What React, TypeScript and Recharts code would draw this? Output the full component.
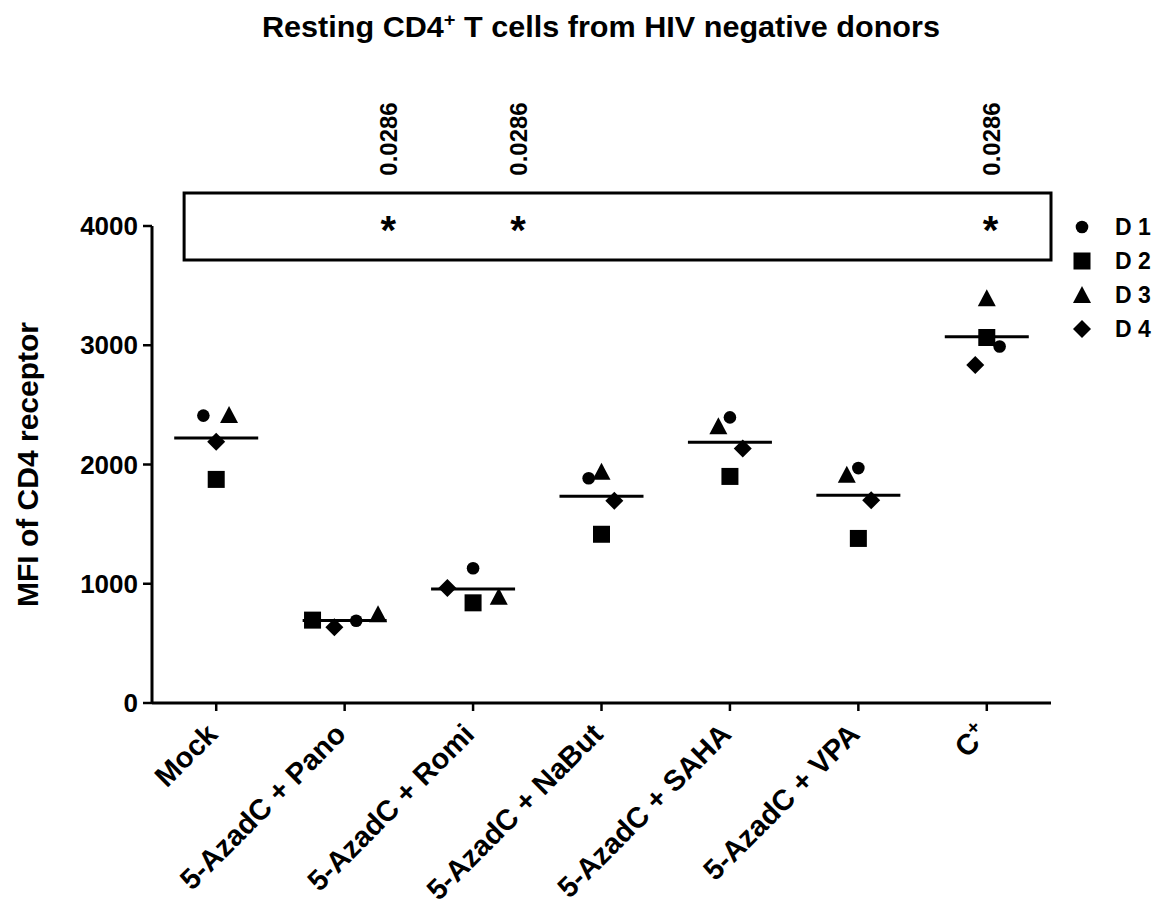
import * as React from 'react'
import { ScatterChart, Scatter, XAxis, YAxis, ReferenceArea, Legend } from 'recharts'

const categories = [
  'Mock',
  '5-AzadC + Pano',
  '5-AzadC + Romi',
  '5-AzadC + NaBut',
  '5-AzadC + SAHA',
  '5-AzadC + VPA',
  'C+',
]

// MFI per donor, one value per category
const d1 = [2410, 690, 1130, 1885, 2395, 1970, 2990]
const d2 = [1875, 695, 840, 1415, 1900, 1380, 3065]
const d3 = [2415, 745, 890, 1940, 2320, 1915, 3395]
const d4 = [2190, 635, 965, 1695, 2135, 1700, 2835]

// horizontal scatter of each donor inside its column (fraction of a column)
const d1Shift = [-0.1, 0.09, 0, -0.1, 0, 0, 0.1]
const d2Shift = [0, -0.25, 0, 0, 0, 0, 0]
const d3Shift = [0.1, 0.26, 0.2, 0, -0.09, -0.09, 0]
const d4Shift = [0, -0.08, -0.2, 0.1, 0.1, 0.1, -0.09]

const pValues = ['', '0.0286', '0.0286', '', '', '', '0.0286']
const sigShift = [0, 0.34, 0.35, 0, 0, 0, 0.03]

const yTicks = [0, 1000, 2000, 3000, 4000]
const xTicks = categories.map((_, i) => i)

const FONT = '"Liberation Sans", Arial, Helvetica, sans-serif'

type Shape = 'circle' | 'square' | 'triangle' | 'diamond'

function marker(shape: Shape, cx: number, cy: number) {
  if (shape === 'circle') return <circle cx={cx} cy={cy} r={6.3} fill="#000" />
  if (shape === 'square') return <rect x={cx - 8.5} y={cy - 8.5} width={17} height={17} fill="#000" />
  if (shape === 'triangle')
    return <polygon points={`${cx},${cy - 9} ${cx + 9},${cy + 8} ${cx - 9},${cy + 8}`} fill="#000" />
  return <polygon points={`${cx},${cy - 9} ${cx + 9},${cy} ${cx},${cy + 9} ${cx - 9},${cy}`} fill="#000" />
}

const donors: { name: string; values: number[]; shift: number[]; shape: Shape }[] = [
  { name: 'D 1', values: d1, shift: d1Shift, shape: 'circle' },
  { name: 'D 2', values: d2, shift: d2Shift, shape: 'square' },
  { name: 'D 3', values: d3, shift: d3Shift, shape: 'triangle' },
  { name: 'D 4', values: d4, shift: d4Shift, shape: 'diamond' },
]

const meanData = categories.map((_, i) => ({
  x: i,
  y: (d1[i] + d2[i] + d3[i] + d4[i]) / 4,
}))

const sigData = categories
  .map((_, i) => ({ x: i + sigShift[i], y: 4000, p: pValues[i] }))
  .filter((d) => d.p)

function CategoryTick(props: any) {
  const { x, y, payload } = props
  const label: string = categories[payload.value] ?? ''
  const sup = label.length <= 3 && label.endsWith('+')
  return (
    <g transform={`translate(${x + 3},${y + 25})`}>
      <text
        textAnchor="end"
        transform="rotate(-45)"
        fontFamily={FONT}
        fontWeight={700}
        fontSize={29}
        fill="#000"
      >
        {sup ? (
          <>
            {label.slice(0, -1)}
            <tspan dy={-11} fontSize={20}>
              +
            </tspan>
          </>
        ) : (
          label
        )}
      </text>
    </g>
  )
}

function MeanLine(props: any) {
  const { cx, cy } = props
  return <line x1={cx - 42} x2={cx + 42} y1={cy} y2={cy} stroke="#000" strokeWidth={3} />
}

function SigMark(props: any) {
  const { cx, cy, payload } = props
  return (
    <g fontFamily={FONT} fontWeight={700} fill="#000">
      <text x={cx} y={cy + 18} textAnchor="middle" fontSize={40}>
        *
      </text>
      <text
        x={cx + 9}
        y={cy - 87}
        textAnchor="middle"
        fontSize={24}
        transform={`rotate(-90, ${cx + 9}, ${cy - 87})`}
      >
        {payload.p}
      </text>
    </g>
  )
}

function DonorLegend() {
  return (
    <div style={{ fontFamily: FONT, fontWeight: 700, fontSize: 23, color: '#000' }}>
      {donors.map((d) => (
        <div key={d.name} style={{ display: 'flex', alignItems: 'center', height: 34 }}>
          <svg width={24} height={24} style={{ display: 'block' }}>
            {marker(d.shape, 12, 12)}
          </svg>
          <span style={{ marginLeft: 21, whiteSpace: 'pre' }}>{d.name}</span>
        </div>
      ))}
    </div>
  )
}

export default function App() {
  return (
    <div style={{ position: 'absolute', left: 0, top: 0, width: 1158, height: 912, background: '#fff' }}>
      <svg width={1158} height={60} style={{ position: 'absolute', left: 0, top: 0, zIndex: 1 }}>
        <text
          x={601}
          y={37}
          textAnchor="middle"
          fontFamily={FONT}
          fontWeight={700}
          fontSize={29}
          fill="#000"
          textLength={678}
          lengthAdjust="spacingAndGlyphs"
        >
          Resting CD4
          <tspan dy={-11} fontSize={19}>
            +
          </tspan>
          <tspan dy={11}> T cells from HIV negative donors</tspan>
        </text>
      </svg>
      <ScatterChart width={1158} height={912} margin={{ top: 226, right: 107, bottom: 9, left: 0 }}>
        <XAxis
          type="number"
          dataKey="x"
          domain={[-0.5, 6.5]}
          ticks={xTicks}
          interval={0}
          allowDataOverflow
          height={200}
          tick={<CategoryTick />}
          tickSize={8}
          tickMargin={0}
          axisLine={{ stroke: '#000', strokeWidth: 3 }}
          tickLine={{ stroke: '#000', strokeWidth: 2.5 }}
        />
        <YAxis
          type="number"
          dataKey="y"
          domain={[0, 4000]}
          ticks={yTicks}
          interval={0}
          width={152}
          tickSize={9}
          tickMargin={5}
          axisLine={{ stroke: '#000', strokeWidth: 3 }}
          tickLine={{ stroke: '#000', strokeWidth: 2.5 }}
          tick={{ fill: '#000', fontSize: 26, fontWeight: 700, fontFamily: FONT }}
          label={{
            value: 'MFI of CD4 receptor',
            angle: -90,
            position: 'insideLeft',
            offset: 27,
            style: { fill: '#000', fontSize: 30, fontWeight: 700, fontFamily: FONT, textAnchor: 'middle' },
          }}
        />
        <ReferenceArea
          x1={-0.25}
          x2={6.5}
          y1={3715}
          y2={4277}
          ifOverflow="visible"
          fill="none"
          fillOpacity={0}
          stroke="#000"
          strokeWidth={3}
        />
        <Scatter name="mean" data={meanData} shape={<MeanLine />} isAnimationActive={false} legendType="none" />
        {donors.map((d) => (
          <Scatter
            key={d.name}
            name={d.name}
            data={d.values.map((v, i) => ({ x: i + d.shift[i], y: v }))}
            shape={(p: any) => marker(d.shape, p.cx, p.cy)}
            isAnimationActive={false}
          />
        ))}
        <Scatter name="sig" data={sigData} shape={<SigMark />} isAnimationActive={false} legendType="none" />
        <Legend
          layout="vertical"
          align="center"
          verticalAlign="middle"
          content={<DonorLegend />}
          wrapperStyle={{ left: 1070, top: 210, width: 90 }}
        />
      </ScatterChart>
    </div>
  )
}
